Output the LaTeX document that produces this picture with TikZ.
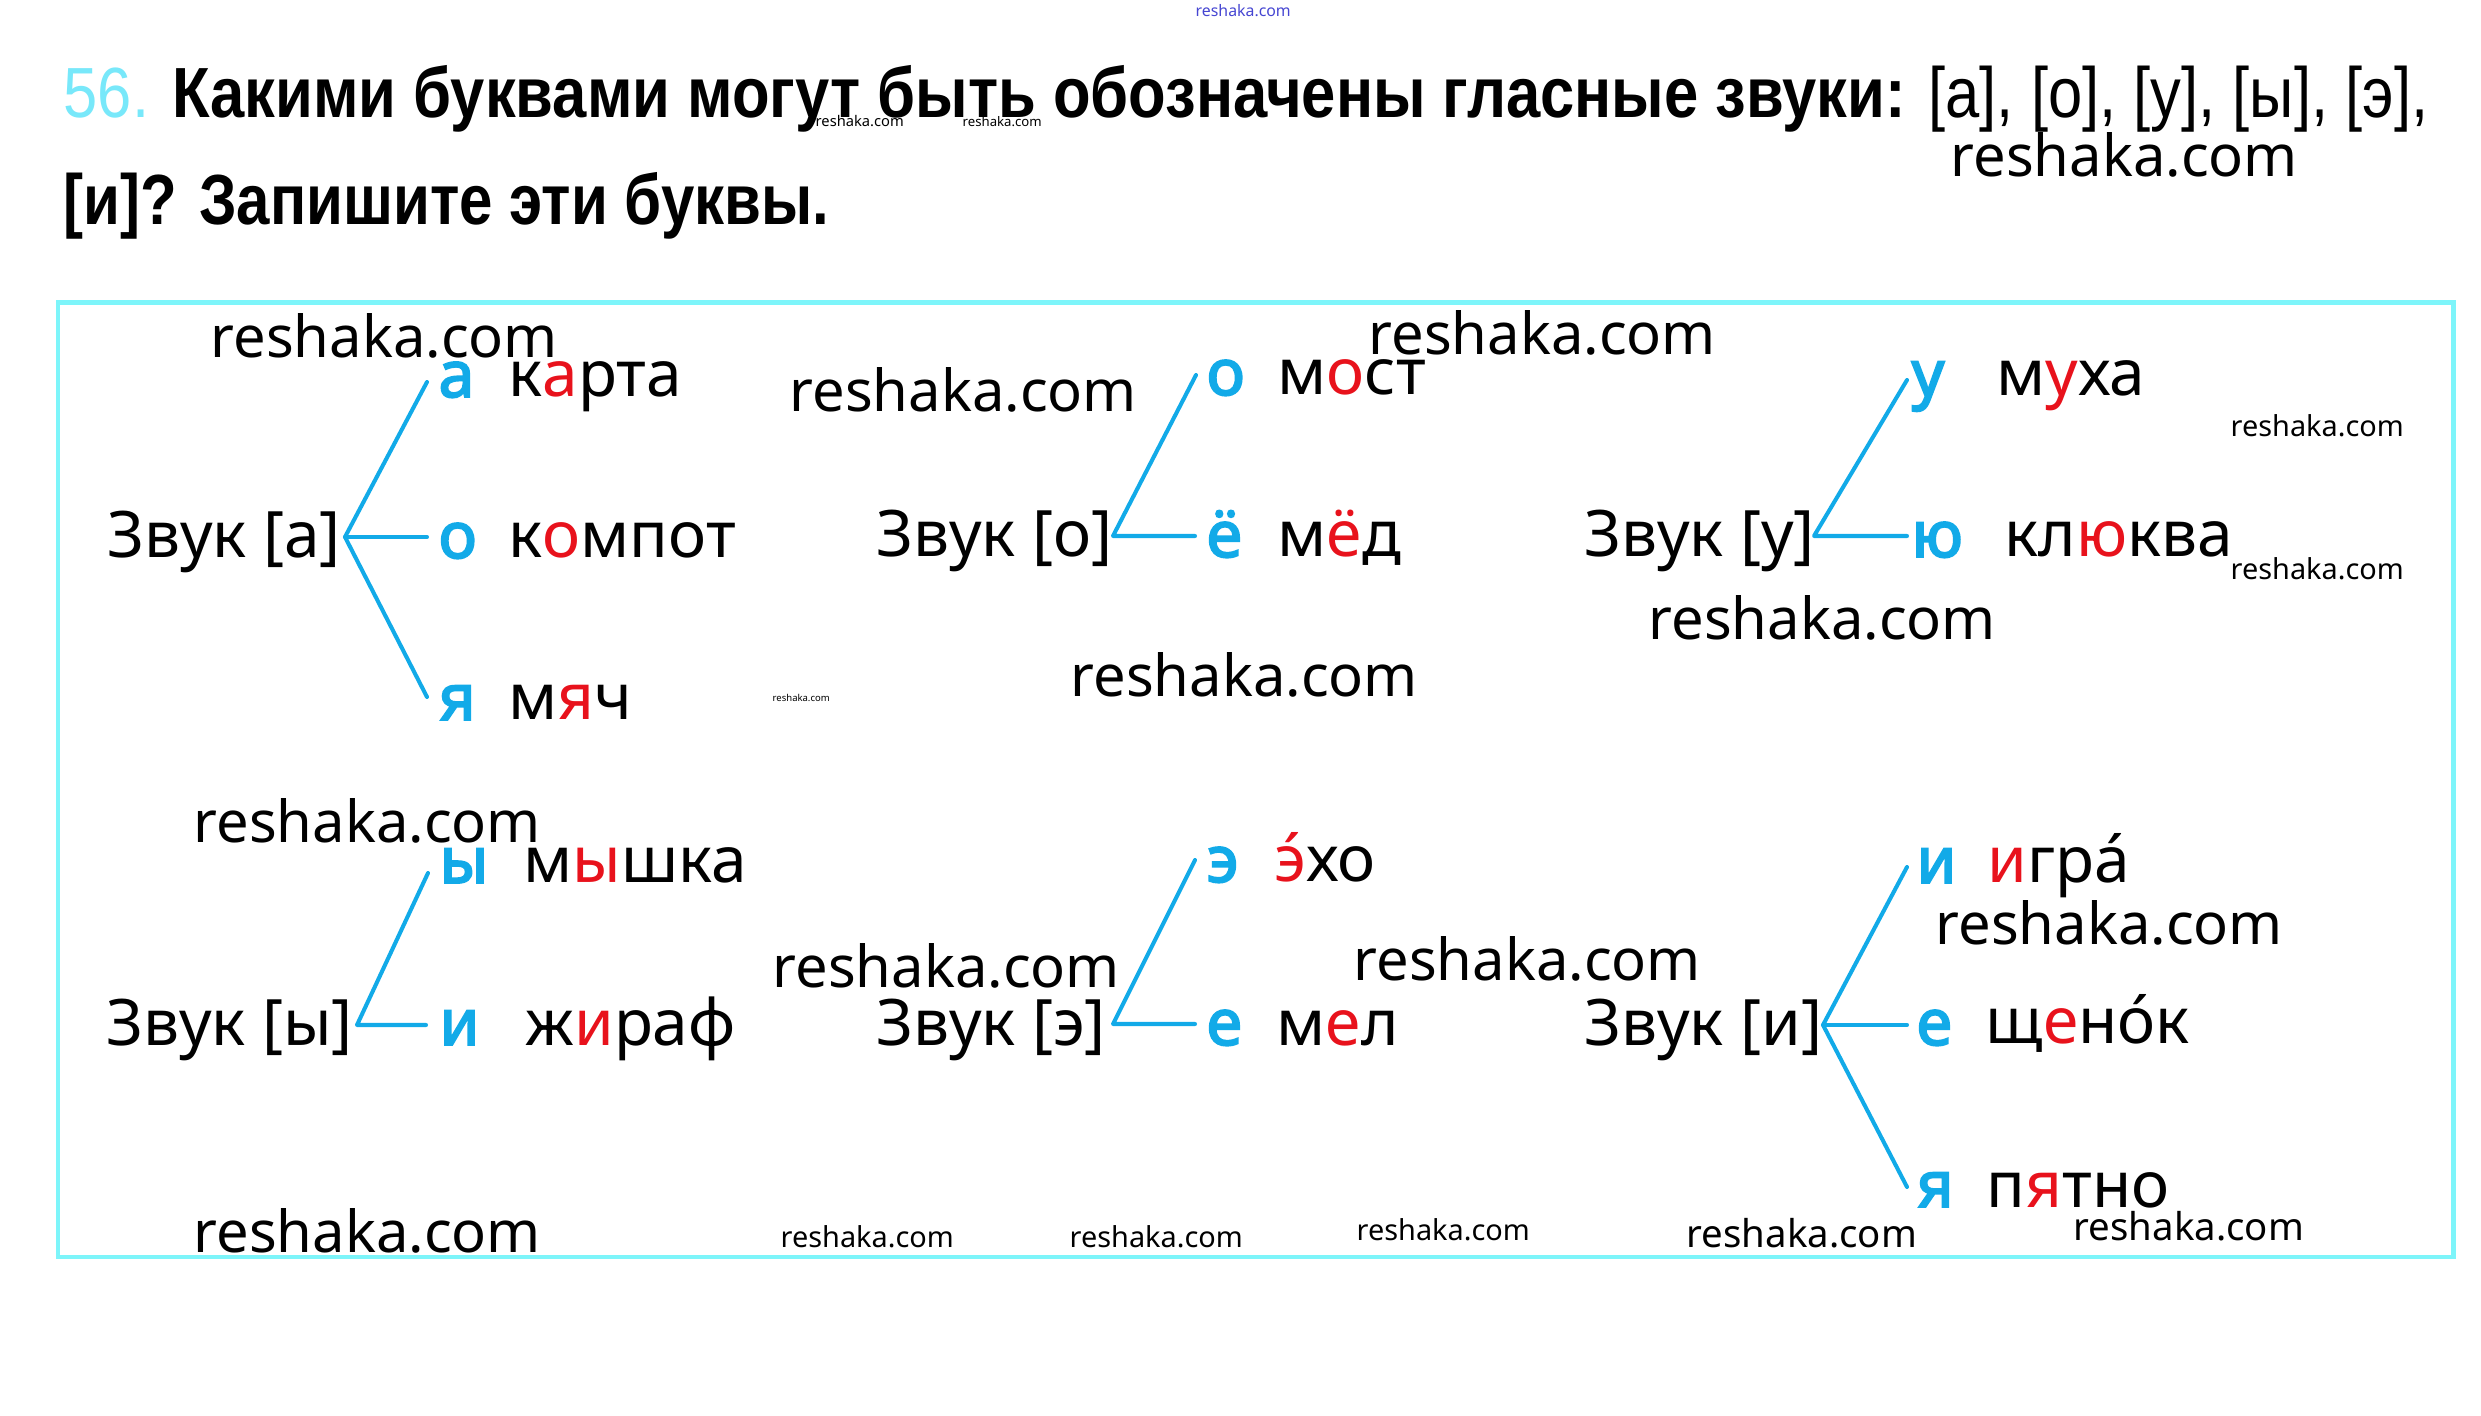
\documentclass[tikz,border=0pt]{standalone}
\usepackage{fontspec}
\usepackage{graphicx}
\setmainfont{Noto Sans}[Script=Cyrillic]
\newfontfamily\vowfont{Noto Sans}[Script=Cyrillic, FakeBold=3]
\newfontfamily\titlefont{Liberation Sans}[Script=Cyrillic]
\newfontfamily\wmfont{Noto Sans}
\definecolor{framec}{RGB}{125,245,250}
\definecolor{lb}{RGB}{18,170,232}
\definecolor{rd}{RGB}{232,18,28}
\definecolor{numc}{RGB}{120,232,250}
\definecolor{wmblue}{RGB}{70,70,210}
\newcommand\rl[1]{\textcolor{rd}{#1}}
\newcommand\bigfs{\fontsize{18.2pt}{20pt}\selectfont}
\newcommand\wm[1]{\resizebox{#1}{!}{\wmfont reshaka.com}}
\begin{document}
\begin{tikzpicture}[x=0.01cm,y=-0.01cm,
  lbl/.style={anchor=base west, inner sep=0pt, font=\bigfs},
  vow/.style={anchor=base west, inner sep=0pt, font=\vowfont\bigfs, text=lb},
  br/.style={draw=lb, line width=1.15pt, line cap=round, line join=round},
  wmk/.style={anchor=base west, inner sep=0pt}]
\useasboundingbox (0,0) rectangle (2481,1416);
\fill[white] (0,0) rectangle (2481,1416);
% frame
\draw[framec, line width=1.42pt] (58,303) rectangle (2453,1257);
% title
\node[anchor=base west, inner sep=0pt] (t1) at (63,118) {\resizebox{23.63cm}{\height}{\titlefont\fontsize{20.2pt}{22pt}\selectfont\textcolor{numc}{56.} {\bfseries Какими буквами могут быть обозначены гласные звуки:} [а], [о], [у], [ы], [э],}};
\node[anchor=base west, inner sep=0pt] (t2) at (63,225) {\resizebox{7.65cm}{\height}{\titlefont\fontsize{20.2pt}{22pt}\selectfont\bfseries [и]? Запишите эти буквы.}};
% watermarks
\node[wmk, text=wmblue] (m0) at (1195,17) {\wm{0.95cm}};
\node[wmk] (m01) at (815,127) {\wm{0.88cm}};
\node[wmk] (m02) at (962,127) {\wm{0.79cm}};
\node[wmk] (m1) at (210,358) {\wm{3.47cm}};
\node[wmk] (m2) at (1950,177) {\wm{3.47cm}};
\node[wmk] (m3) at (789,412) {\wm{3.47cm}};
\node[wmk] (m4) at (1368,355) {\wm{3.47cm}};
\node[wmk] (m5) at (1648,640) {\wm{3.47cm}};
\node[wmk] (m6) at (1070,697) {\wm{3.47cm}};
\node[wmk] (m7) at (193,843) {\wm{3.47cm}};
\node[wmk] (m8) at (772,988) {\wm{3.47cm}};
\node[wmk] (m9) at (1353,980) {\wm{3.47cm}};
\node[wmk] (m10) at (1935,945) {\wm{3.47cm}};
\node[wmk] (m11) at (193,1252) {\wm{3.47cm}};
\node[wmk] (s1) at (2230,437) {\wm{1.73cm}};
\node[wmk] (s2) at (2230,580) {\wm{1.73cm}};
\node[wmk] (s3) at (780,1248) {\wm{1.73cm}};
\node[wmk] (s4) at (1069,1248) {\wm{1.73cm}};
\node[wmk] (s5) at (1356,1240) {\wm{1.73cm}};
\node[wmk] (s6) at (1686,1247) {\wm{2.30cm}};
\node[wmk] (s7) at (2073,1240) {\wm{2.30cm}};
\node[wmk] (s8) at (772,702) {\wm{0.57cm}};
% group [a]
\node[lbl] (ga) at (107,558) {Звук [а]};
\coordinate (ga0) at (345,537);
\coordinate (ga1e) at (427,382);
\coordinate (ga2e) at (427,537);
\coordinate (ga3e) at (427,697);
\node[vow] (ga1) at (438,397) {а};
\node[vow] (ga2) at (438,558) {о};
\node[vow] (ga3) at (438,720) {я};
\node[lbl] (wa1) at (508,397) {к\rl{а}рта};
\node[lbl] (wa2) at (508,558) {к\rl{о}мпот};
\node[lbl] (wa3) at (508,720) {м\rl{я}ч};
\draw[br] (ga1e) -- (ga0) -- (ga3e);
\draw[br] (ga0) -- (ga2e);
% group [o]
\node[lbl] (go) at (876,557) {Звук [о]};
\coordinate (go0) at (1113,536);
\coordinate (go1e) at (1196,375);
\coordinate (go2e) at (1195,536);
\node[vow] (go1) at (1206,395) {о};
\node[vow] (go2) at (1206,557) {ё};
\node[lbl] (wo1) at (1277,395) {м\rl{о}ст};
\node[lbl] (wo2) at (1277,557) {м\rl{ё}д};
\draw[br] (go1e) -- (go0) -- (go2e);
% group [u]
\node[lbl] (gu) at (1584,557) {Звук [у]};
\coordinate (gu0) at (1814,536);
\coordinate (gu1e) at (1907,380);
\coordinate (gu2e) at (1907,536);
\node[vow] (gu1) at (1911,396) {у};
\node[vow] (gu2) at (1911,557) {ю};
\node[lbl] (wu1) at (1996,396) {м\rl{у}ха};
\node[lbl] (wu2) at (2004,557) {кл\rl{ю}ква};
\draw[br] (gu1e) -- (gu0) -- (gu2e);
% group [y]
\node[lbl] (gy) at (106,1045) {Звук [ы]};
\coordinate (gy0) at (357,1025);
\coordinate (gy1e) at (428,873);
\coordinate (gy2e) at (426,1025);
\node[vow] (gy1) at (439,883) {ы};
\node[vow] (gy2) at (439,1045) {и};
\node[lbl] (wy1) at (523,883) {м\rl{ы}шка};
\node[lbl] (wy2) at (525,1045) {ж\rl{и}раф};
\draw[br] (gy1e) -- (gy0) -- (gy2e);
% group [e]
\node[lbl] (ge) at (876,1045) {Звук [э]};
\coordinate (ge0) at (1113,1024);
\coordinate (ge1e) at (1195,860);
\coordinate (ge2e) at (1195,1024);
\node[vow] (ge1) at (1206,882) {э};
\node[vow] (ge2) at (1206,1045) {е};
\node[lbl] (we1) at (1274,882) {\rl{э́}хо};
\node[lbl] (we2) at (1276,1045) {м\rl{е}л};
\draw[br] (ge1e) -- (ge0) -- (ge2e);
% group [i]
\node[lbl] (gi) at (1584,1045) {Звук [и]};
\coordinate (gi0) at (1823,1025);
\coordinate (gi1e) at (1907,867);
\coordinate (gi2e) at (1907,1025);
\coordinate (gi3e) at (1907,1187);
\node[vow] (gi1) at (1916,883) {и};
\node[vow] (gi2) at (1916,1045) {е};
\node[vow] (gi3) at (1916,1207) {я};
\node[lbl] (wi1) at (1987,883) {\rl{и}гра́};
\node[lbl] (wi2) at (1985,1044) {щ\rl{е}но́к};
\node[lbl] (wi3) at (1986,1207) {п\rl{я}тно};
\draw[br] (gi1e) -- (gi0) -- (gi3e);
\draw[br] (gi0) -- (gi2e);
\end{tikzpicture}
\end{document}
